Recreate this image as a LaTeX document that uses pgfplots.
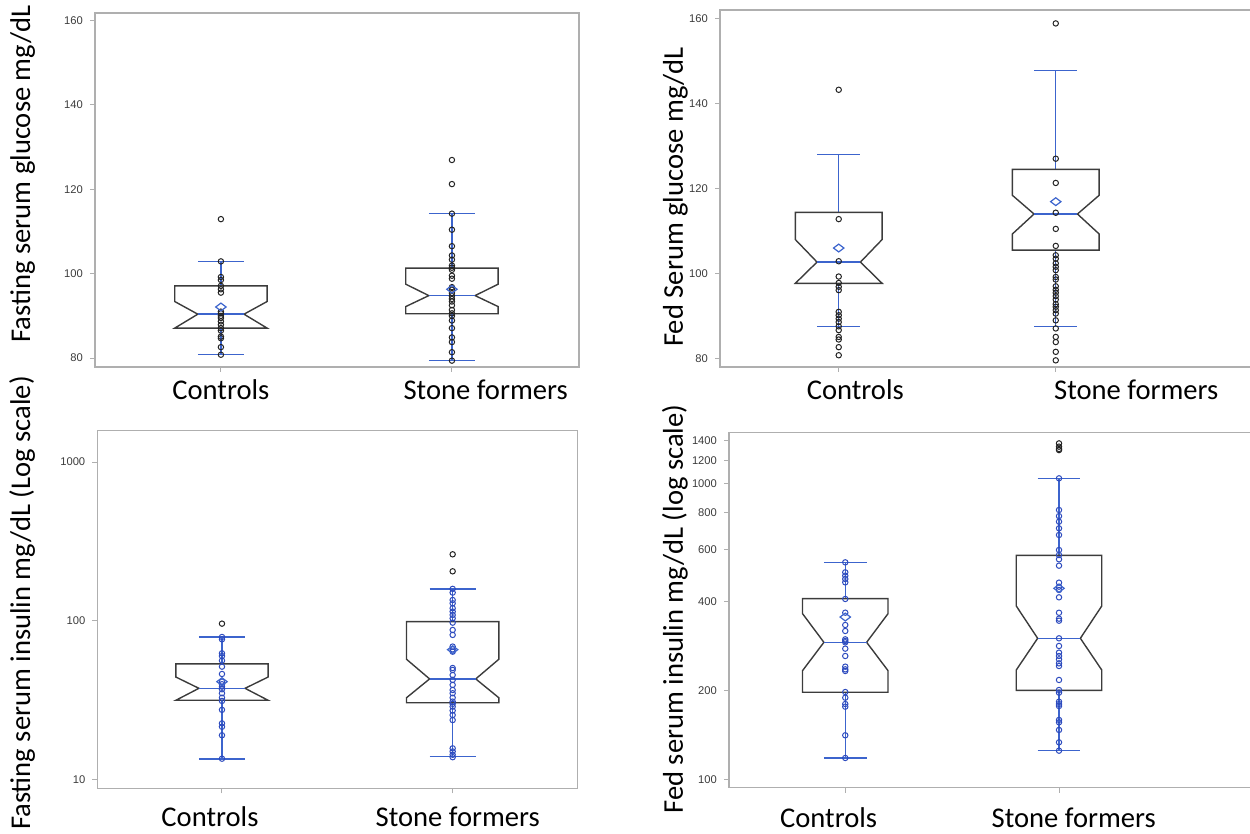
\documentclass[border=0pt]{standalone}
\usepackage{fontspec}
\setmainfont{Carlito}
\newfontfamily\tickfont{Liberation Sans}
\usepackage{pgfplots}
\pgfplotsset{compat=1.18}
\definecolor{wblue}{RGB}{60,100,205}
\definecolor{pblue}{RGB}{45,75,190}
\definecolor{boxgray}{RGB}{60,60,60}
\definecolor{framegray}{RGB}{175,175,175}
\definecolor{tickgray}{RGB}{60,60,60}
\definecolor{ptdark}{RGB}{35,35,35}
\pgfplotsset{
  panel/.style={
    scale only axis, clip=false,
    axis line style={draw=framegray, line width=0.6pt},
    tick style={draw=framegray, line width=0.5pt},
    major tick length=2.5pt, tick align=outside,
    tick pos=left, yminorticks=false, xminorticks=false,
    xtick={1,2}, xticklabels={},
    yticklabel style={font=\tickfont\fontsize{5.6}{6}\selectfont, text=tickgray},
    extra x tick labels={Controls, Stone formers},
  },
  xlab/.style={extra x tick style={major tick length=0pt,
      tick label style={font=\fontsize{14.3}{16}\selectfont, text=black, anchor=base, yshift=-#1}}},
  ylab/.style 2 args={every axis y label/.style={at={(rel axis cs:-#1,#2)}, rotate=90, anchor=base,
      font=\fontsize{14.3}{16}\selectfont, text=black}},
  box/.style={draw=boxgray, line width=0.7pt, mark=none},
  whisk/.style={draw=wblue, line width=0.7pt, mark=none},
  ptsd/.style={only marks, mark=o, mark size=1.35pt, draw=ptdark, mark options={line width=0.5pt, draw=ptdark}},
  ptsb/.style={only marks, mark=o, mark size=1.35pt, draw=pblue, mark options={line width=0.5pt, draw=pblue}},
  meanm/.style={only marks, mark=diamond, mark size=2.6pt, mark options={rotate=90, draw=wblue, line width=0.6pt, fill=none}},
}
\begin{document}
\begin{tikzpicture}
% ---------------- Panel 1: Fasting serum glucose ----------------
\begin{axis}[panel, at={(47.5pt,233.5pt)}, anchor=south west, width=242pt, height=177pt,
  xmin=0.455, xmax=2.55, ymin=77.9, ymax=161.7,
  ytick={80,100,120,140,160}, yticklabels={80,100,120,140,160},
  extra x ticks={1.0,2.146}, xlab=16.15pt,
  ylab={0.1343}{0.545}, ylabel={Fasting serum glucose mg/dL}]
% Controls
\addplot[whisk] coordinates {(1,97.1) (1,102.9)};
\addplot[whisk] coordinates {(0.9,102.9) (1.1,102.9)};
\addplot[whisk] coordinates {(1,87.1) (1,80.8)};
\addplot[whisk] coordinates {(0.9,80.8) (1.1,80.8)};
\addplot[box] coordinates {(1,97.1) (1.2,97.1) (1.2,93.4) (1.1,90.4) (1.2,87.1) (0.8,87.1) (0.9,90.4) (0.8,93.4) (0.8,97.1) (1,97.1)};
\addplot[whisk] coordinates {(0.9,90.4) (1.1,90.4)};
\addplot[ptsd] coordinates {(1,112.9) (1,102.9) (1,99.2) (1,98.5) (1,97.1) (1,96.3) (1,95.5) (1,91.0) (1,90.6) (1,90.0) (1,89.5) (1,88.7) (1,87.9) (1,87.1) (1,86.5) (1,85.1) (1,84.7) (1,82.6) (1,80.8)};
\addplot[meanm] coordinates {(1,92.1)};
% Stone formers
\addplot[whisk] coordinates {(2,101.3) (2,114.2)};
\addplot[whisk] coordinates {(1.9,114.2) (2.1,114.2)};
\addplot[whisk] coordinates {(2,90.5) (2,79.4)};
\addplot[whisk] coordinates {(1.9,79.4) (2.1,79.4)};
\addplot[box] coordinates {(2,101.3) (2.2,101.3) (2.2,97.5) (2.1,94.8) (2.2,92.2) (2.2,90.5) (1.8,90.5) (1.8,92.2) (1.9,94.8) (1.8,97.5) (1.8,101.3) (2,101.3)};
\addplot[whisk] coordinates {(1.9,94.8) (2.1,94.8)};
\addplot[ptsd] coordinates {(2,126.9) (2,121.2) (2,114.2) (2,110.4) (2,106.5) (2,104.3) (2,103.3) (2,101.9) (2,101.4) (2,100.9) (2,99.5) (2,98.8) (2,96.8) (2,96.2) (2,95.4) (2,94.7) (2,94.0) (2,93.4) (2,92.5) (2,91.4) (2,90.6) (2,90.0) (2,88.9) (2,87.1) (2,84.9) (2,83.8) (2,81.4) (2,79.4)};
\addplot[meanm] coordinates {(2,96.3)};
\end{axis}
% ---------------- Panel 2: Fed serum glucose ----------------
\begin{axis}[panel, at={(360pt,233.5pt)}, anchor=south west, width=267.5pt, height=178.5pt,
  xmin=0.453, xmax=2.918, ymin=78.04, ymax=161.96,
  ytick={80,100,120,140,160}, yticklabels={80,100,120,140,160},
  extra x ticks={1.0765,2.371}, xlab=16.15pt,
  ylab={0.0692}{0.476}, ylabel={Fed Serum glucose mg/dL}]
% Controls
\addplot[whisk] coordinates {(1,114.4) (1,128.0)};
\addplot[whisk] coordinates {(0.9,128.0) (1.1,128.0)};
\addplot[whisk] coordinates {(1,97.7) (1,87.5)};
\addplot[whisk] coordinates {(0.9,87.5) (1.1,87.5)};
\addplot[box] coordinates {(1,114.4) (1.2,114.4) (1.2,108.0) (1.1,102.7) (1.2,97.7) (0.8,97.7) (0.9,102.7) (0.8,108.0) (0.8,114.4) (1,114.4)};
\addplot[whisk] coordinates {(0.9,102.7) (1.1,102.7)};
\addplot[ptsd] coordinates {(1,143.2) (1,112.8) (1,102.9) (1,99.3) (1,97.8) (1,96.9) (1,96.1) (1,91.0) (1,90.2) (1,89.4) (1,88.6) (1,87.6) (1,86.7) (1,85.1) (1,84.5) (1,82.7) (1,80.8)};
\addplot[meanm] coordinates {(1,106.0)};
% Stone formers
\addplot[whisk] coordinates {(2,124.5) (2,147.8)};
\addplot[whisk] coordinates {(1.9,147.8) (2.1,147.8)};
\addplot[whisk] coordinates {(2,105.5) (2,87.6)};
\addplot[whisk] coordinates {(1.9,87.6) (2.1,87.6)};
\addplot[box] coordinates {(2,124.5) (2.2,124.5) (2.2,118.4) (2.1,114.0) (2.2,109.3) (2.2,105.5) (1.8,105.5) (1.8,109.3) (1.9,114.0) (1.8,118.4) (1.8,124.5) (2,124.5)};
\addplot[whisk] coordinates {(1.9,114.0) (2.1,114.0)};
\addplot[ptsd] coordinates {(2,158.8) (2,127.0) (2,121.3) (2,114.3) (2,110.5) (2,106.5) (2,104.3) (2,103.5) (2,102.4) (2,101.6) (2,100.8) (2,99.2) (2,98.6) (2,97.0) (2,96.2) (2,95.5) (2,94.7) (2,93.9) (2,92.8) (2,92.2) (2,91.4) (2,90.6) (2,89.0) (2,87.1) (2,85.1) (2,83.9) (2,81.6) (2,79.6)};
\addplot[meanm] coordinates {(2,116.9)};
\end{axis}
% ---------------- Panel 3: Fasting serum insulin (log) ----------------
\begin{axis}[panel, ymode=log, at={(48.65pt,22.85pt)}, anchor=south west, width=240.2pt, height=178.8pt,
  xmin=0.4595, xmax=2.542, ymin=8.86, ymax=1574,
  ytick={10,100,1000}, yticklabels={10,100,1000},
  extra x ticks={0.948,2.022}, xlab=19.2pt,
  ylab={0.140}{0.518}, ylabel={Fasting serum insulin mg/dL (Log scale)}]
% Controls
\addplot[whisk] coordinates {(1,53.7) (1,79.2)};
\addplot[whisk] coordinates {(0.9,79.2) (1.1,79.2)};
\addplot[whisk] coordinates {(1,31.7) (1,13.55)};
\addplot[whisk] coordinates {(0.9,13.55) (1.1,13.55)};
\addplot[box] coordinates {(1,53.7) (1.2,53.7) (1.2,44.4) (1.1,37.7) (1.2,31.7) (0.8,31.7) (0.9,37.7) (0.8,44.4) (0.8,53.7) (1,53.7)};
\addplot[whisk] coordinates {(0.9,37.7) (1.1,37.7)};
\addplot[ptsd] coordinates {(1,96.2)};
\addplot[ptsb] coordinates {(1,79.3) (1,76.7) (1,62.6) (1,60.2) (1,56.3) (1,51.6) (1,46.4) (1,41.5) (1,40.0) (1,38.6) (1,37.2) (1,35.1) (1,32.9) (1,31.4) (1,27.6) (1,22.7) (1,21.6) (1,19.1) (1,13.6)};
\addplot[meanm] coordinates {(1,41.5)};
% Stone formers
\addplot[whisk] coordinates {(2,99.0) (2,159)};
\addplot[whisk] coordinates {(1.9,159) (2.1,159)};
\addplot[whisk] coordinates {(2,30.6) (2,14.0)};
\addplot[whisk] coordinates {(1.9,14.0) (2.1,14.0)};
\addplot[box] coordinates {(2,99.0) (2.2,99.0) (2.2,57.4) (2.1,43.2) (2.2,32.9) (2.2,30.6) (1.8,30.6) (1.8,32.9) (1.9,43.2) (1.8,57.4) (1.8,99.0) (2,99.0)};
\addplot[whisk] coordinates {(1.9,43.2) (2.1,43.2)};
\addplot[ptsd] coordinates {(2,262.6) (2,205.3)};
\addplot[ptsb] coordinates {(2,159.2) (2,150.8) (2,135.5) (2,129.2) (2,120.2) (2,114.5) (2,109.1) (2,103.9) (2,97.6) (2,87.8) (2,81.7) (2,69.0) (2,66.3) (2,64.1) (2,50.6) (2,49.2) (2,45.7) (2,42.6) (2,39.6) (2,36.8) (2,35.1) (2,32.9) (2,31.1) (2,30.1) (2,28.9) (2,27.3) (2,25.6) (2,23.8) (2,15.8) (2,15.1) (2,14.4) (2,13.9)};
\addplot[meanm] coordinates {(2,66.0)};
\end{axis}
% ---------------- Panel 4: Fed serum insulin (log) ----------------
\begin{axis}[panel, ymode=log, at={(364.5pt,23.15pt)}, anchor=south west, width=263pt, height=177.5pt,
  xmin=0.456, xmax=2.917, ymin=93.7, ymax=1487.6,
  ytick={100,200,400,600,800,1000,1200,1400}, yticklabels={100,200,400,600,800,1000,1200,1400},
  extra x ticks={0.922,2.069}, xlab=20pt,
  ylab={0.0875}{0.503}, ylabel={Fed serum insulin mg/dL (log scale)}]
% Controls
\addplot[whisk] coordinates {(1,408.3) (1,541.9)};
\addplot[whisk] coordinates {(0.9,541.9) (1.1,541.9)};
\addplot[whisk] coordinates {(1,197.0) (1,118.1)};
\addplot[whisk] coordinates {(0.9,118.1) (1.1,118.1)};
\addplot[box] coordinates {(1,408.3) (1.2,408.3) (1.2,363.4) (1.1,290.7) (1.2,233.1) (1.2,197.0) (0.8,197.0) (0.8,233.1) (0.9,290.7) (0.8,363.4) (0.8,408.3) (1,408.3)};
\addplot[whisk] coordinates {(0.9,290.7) (1.1,290.7)};
\addplot[ptsb] coordinates {(1,541.9) (1,501.3) (1,488.5) (1,476.0) (1,463.7) (1,407.4) (1,366.2) (1,332.7) (1,317.5) (1,297.5) (1,293.7) (1,290.7) (1,276.7) (1,261.3) (1,240.5) (1,235.5) (1,232.5) (1,197.4) (1,188.9) (1,179.8) (1,176.1) (1,140.9) (1,118.1)};
\addplot[meanm] coordinates {(1,354.0)};
% Stone formers
\addplot[whisk] coordinates {(2,572.2) (2,1042.5)};
\addplot[whisk] coordinates {(1.9,1042.5) (2.1,1042.5)};
\addplot[whisk] coordinates {(2,200) (2,125)};
\addplot[whisk] coordinates {(1.9,125) (2.1,125)};
\addplot[box] coordinates {(2,572.2) (2.2,572.2) (2.2,385.8) (2.1,299.9) (2.2,234.3) (2.2,200) (1.8,200) (1.8,234.3) (1.9,299.9) (1.8,385.8) (1.8,572.2) (2,572.2)};
\addplot[whisk] coordinates {(1.9,299.9) (2.1,299.9)};
\addplot[ptsd] coordinates {(2,1368.6) (2,1334) (2,1310) (2,1299)};
\addplot[ptsb] coordinates {(2,1042.5) (2,814.7) (2,777) (2,743.8) (2,706.3) (2,670.6) (2,596.6) (2,573.7) (2,554.9) (2,528) (2,462.6) (2,448.3) (2,436.9) (2,412.7) (2,366) (2,349.4) (2,344) (2,299.9) (2,282.5) (2,268.2) (2,261.3) (2,254.6) (2,246.8) (2,241.7) (2,216.8) (2,200.5) (2,196.4) (2,183.1) (2,179.8) (2,177) (2,158.8) (2,155.9) (2,146.9) (2,133.4) (2,125)};
\addplot[meanm] coordinates {(2,442.6)};
\end{axis}
\pgfresetboundingbox
\useasboundingbox (0,0) rectangle (625pt,417pt);
\end{tikzpicture}
\end{document}
